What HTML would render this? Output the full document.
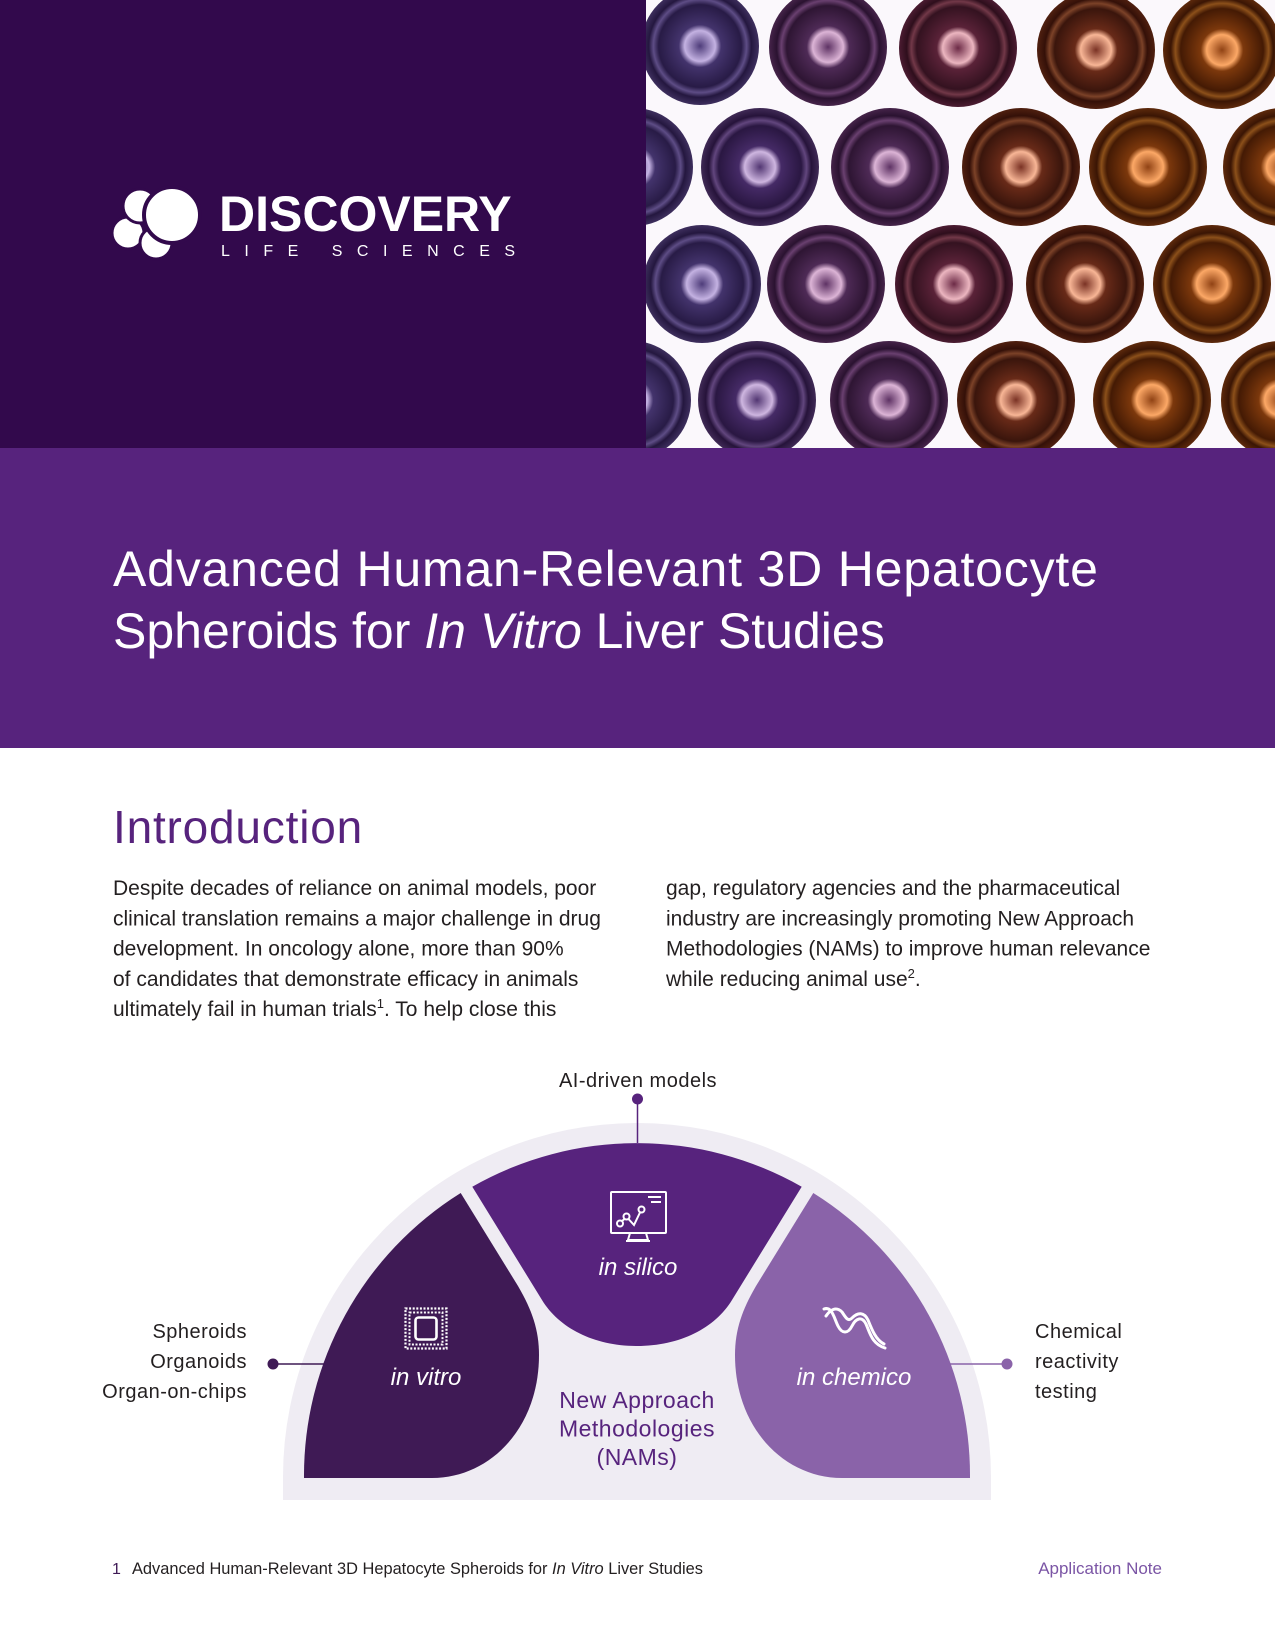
<!DOCTYPE html>
<html>
<head>
<meta charset="utf-8">
<style>
  html,body{margin:0;padding:0;background:#fff;}
  body{width:1275px;height:1650px;overflow:hidden;}
  svg{display:block;}
  text{font-family:"Liberation Sans", Arial, sans-serif;}
</style>
</head>
<body>
<svg width="1275" height="1650" viewBox="0 0 1275 1650" xmlns="http://www.w3.org/2000/svg">
  <defs>
    <radialGradient id="g1" cx="50%" cy="50%" r="50%">
      <stop offset="0%" stop-color="#4e3c7a"/>
      <stop offset="26%" stop-color="#c4b2e2"/>
      <stop offset="36%" stop-color="#43336c"/>
      <stop offset="70%" stop-color="#281b46"/>
      <stop offset="79%" stop-color="#5e4d86"/>
      <stop offset="87%" stop-color="#24173f"/>
      <stop offset="100%" stop-color="#3e2f5e"/>
    </radialGradient>
    <radialGradient id="g2" cx="50%" cy="50%" r="50%">
      <stop offset="0%" stop-color="#523672"/>
      <stop offset="26%" stop-color="#ceb6e0"/>
      <stop offset="36%" stop-color="#452a66"/>
      <stop offset="70%" stop-color="#2a1742"/>
      <stop offset="79%" stop-color="#62467e"/>
      <stop offset="87%" stop-color="#26133a"/>
      <stop offset="100%" stop-color="#402a56"/>
    </radialGradient>
    <radialGradient id="g3" cx="50%" cy="50%" r="50%">
      <stop offset="0%" stop-color="#5e3264"/>
      <stop offset="26%" stop-color="#dcb4d6"/>
      <stop offset="36%" stop-color="#4e2a56"/>
      <stop offset="70%" stop-color="#2e1533"/>
      <stop offset="79%" stop-color="#6a4070"/>
      <stop offset="87%" stop-color="#2a1230"/>
      <stop offset="100%" stop-color="#46244a"/>
    </radialGradient>
    <radialGradient id="g4" cx="50%" cy="50%" r="50%">
      <stop offset="0%" stop-color="#6c2a46"/>
      <stop offset="26%" stop-color="#ecb6c0"/>
      <stop offset="36%" stop-color="#5a2238"/>
      <stop offset="70%" stop-color="#341220"/>
      <stop offset="79%" stop-color="#723848"/>
      <stop offset="87%" stop-color="#2e0e1c"/>
      <stop offset="100%" stop-color="#4c1c32"/>
    </radialGradient>
    <radialGradient id="g5" cx="50%" cy="50%" r="50%">
      <stop offset="0%" stop-color="#7a3224"/>
      <stop offset="26%" stop-color="#f8b696"/>
      <stop offset="36%" stop-color="#682a18"/>
      <stop offset="70%" stop-color="#3a150c"/>
      <stop offset="79%" stop-color="#7c4228"/>
      <stop offset="87%" stop-color="#341008"/>
      <stop offset="100%" stop-color="#502010"/>
    </radialGradient>
    <radialGradient id="g6" cx="50%" cy="50%" r="50%">
      <stop offset="0%" stop-color="#904214"/>
      <stop offset="26%" stop-color="#fca866"/>
      <stop offset="36%" stop-color="#7c380c"/>
      <stop offset="70%" stop-color="#441a04"/>
      <stop offset="79%" stop-color="#8c501a"/>
      <stop offset="87%" stop-color="#3a1504"/>
      <stop offset="100%" stop-color="#5e2a0c"/>
    </radialGradient>
    <clipPath id="photoClip">
      <rect x="646" y="0" width="629" height="448"/>
    </clipPath>
  </defs>

  <!-- Header dark block -->
  <rect x="0" y="0" width="646" height="448" fill="#32094c"/>

  <!-- Photo -->
  <g clip-path="url(#photoClip)">
    <rect x="646" y="0" width="629" height="448" fill="#fbf8fc"/>
    <!-- Row A -->
    <circle cx="700" cy="46" r="59" fill="url(#g1)"/>
    <circle cx="828" cy="47" r="59" fill="url(#g3)"/>
    <circle cx="958" cy="48" r="59" fill="url(#g4)"/>
    <circle cx="1096" cy="50" r="59" fill="url(#g5)"/>
    <circle cx="1222" cy="50" r="59" fill="url(#g6)"/>
    <!-- Row B -->
    <circle cx="634" cy="167" r="59" fill="url(#g1)"/>
    <circle cx="760" cy="167" r="59" fill="url(#g2)"/>
    <circle cx="890" cy="167" r="59" fill="url(#g3)"/>
    <circle cx="1021" cy="167" r="59" fill="url(#g5)"/>
    <circle cx="1148" cy="167" r="59" fill="url(#g6)"/>
    <circle cx="1282" cy="167" r="59" fill="url(#g6)"/>
    <!-- Row C -->
    <circle cx="702" cy="284" r="59" fill="url(#g1)"/>
    <circle cx="826" cy="284" r="59" fill="url(#g3)"/>
    <circle cx="954" cy="284" r="59" fill="url(#g4)"/>
    <circle cx="1085" cy="284" r="59" fill="url(#g5)"/>
    <circle cx="1212" cy="284" r="59" fill="url(#g6)"/>
    <!-- Row D -->
    <circle cx="632" cy="400" r="59" fill="url(#g1)"/>
    <circle cx="757" cy="400" r="59" fill="url(#g2)"/>
    <circle cx="889" cy="400" r="59" fill="url(#g3)"/>
    <circle cx="1016" cy="400" r="59" fill="url(#g5)"/>
    <circle cx="1152" cy="400" r="59" fill="url(#g6)"/>
    <circle cx="1280" cy="400" r="59" fill="url(#g6)"/>
  </g>

  <!-- Logo icon -->
  <g>
    <circle cx="128" cy="233" r="16" fill="#fff" stroke="#32094c" stroke-width="3"/>
    <circle cx="140" cy="206" r="17" fill="#fff" stroke="#32094c" stroke-width="3"/>
    <circle cx="156" cy="243" r="16" fill="#fff" stroke="#32094c" stroke-width="3"/>
    <circle cx="172" cy="215" r="28" fill="#fff" stroke="#32094c" stroke-width="4"/>
  </g>
  <text x="219" y="231" font-size="50" font-weight="bold" fill="#fff">DISCOVERY</text>
  <text x="221" y="256" font-size="16" letter-spacing="14.5" fill="#fff">LIFE SCIENCES</text>

  <!-- Title band -->
  <rect x="0" y="448" width="1275" height="300" fill="#57237d"/>
  <text x="113" y="586" font-size="50" letter-spacing="0.8" fill="#fff">Advanced Human-Relevant 3D Hepatocyte</text>
  <text x="113" y="648" font-size="50" letter-spacing="0" fill="#fff">Spheroids for <tspan font-style="italic">In Vitro</tspan> Liver Studies</text>

  <!-- Introduction -->
  <text x="113" y="843" font-size="46" letter-spacing="0.8" fill="#57237d">Introduction</text>

  <g font-size="21" fill="#231f20">
    <text x="113" y="895">Despite decades of reliance on animal models, poor</text>
    <text x="113" y="925.25">clinical translation remains a major challenge in drug</text>
    <text x="113" y="955.5">development. In oncology alone, more than 90%</text>
    <text x="113" y="985.75">of candidates that demonstrate efficacy in animals</text>
    <text x="113" y="1016">ultimately fail in human trials<tspan font-size="13" dy="-8">1</tspan><tspan dy="8">. To help close this</tspan></text>

    <text x="666" y="895">gap, regulatory agencies and the pharmaceutical</text>
    <text x="666" y="925.25">industry are increasingly promoting New Approach</text>
    <text x="666" y="955.5">Methodologies (NAMs) to improve human relevance</text>
    <text x="666" y="985.75">while reducing animal use<tspan font-size="13" dy="-8">2</tspan><tspan dy="8">.</tspan></text>
  </g>

  <!-- Diagram -->
  <path d="M 283 1500 L 283 1477 A 354 354 0 0 1 991 1477 L 991 1500 Z" fill="#efecf3"/>

  <!-- in silico -->
  <path d="M 472.3 1186.7 A 333 333 0 0 1 801.7 1186.7 L 732 1300 C 715 1328, 680 1346, 637 1346 C 594 1346, 559 1328, 542 1300 Z" fill="#57237d"/>
  <!-- in vitro -->
  <path d="M 460.7 1193 L 518 1286 C 532 1310, 539 1330, 539 1355 C 539 1428, 490 1478, 432 1478 L 304 1478 A 333 333 0 0 1 460.7 1193 Z" fill="#3f1a55"/>
  <!-- in chemico -->
  <path d="M 813.3 1193 L 756 1286 C 742 1310, 735 1330, 735 1355 C 735 1428, 784 1478, 842 1478 L 970 1478 A 333 333 0 0 0 813.3 1193 Z" fill="#8a63a9"/>

  <!-- connectors -->
  <line x1="637.5" y1="1099" x2="637.5" y2="1143" stroke="#57237d" stroke-width="1.5"/>
  <circle cx="637.5" cy="1099" r="5.5" fill="#57237d"/>
  <line x1="273" y1="1364" x2="325" y2="1364" stroke="#3f1a55" stroke-width="1.5"/>
  <circle cx="273" cy="1364" r="5.5" fill="#3f1a55"/>
  <line x1="949" y1="1364" x2="1007" y2="1364" stroke="#8a63a9" stroke-width="1.5"/>
  <circle cx="1007" cy="1364" r="5.5" fill="#8a63a9"/>

  <!-- outer labels -->
  <text x="638" y="1087" font-size="20" letter-spacing="0.5" text-anchor="middle" fill="#231f20">AI-driven models</text>
  <g font-size="20" letter-spacing="0.5" text-anchor="end" fill="#231f20">
    <text x="247" y="1338">Spheroids</text>
    <text x="247" y="1368">Organoids</text>
    <text x="247" y="1398">Organ-on-chips</text>
  </g>
  <g font-size="20" letter-spacing="0.5" fill="#231f20">
    <text x="1035" y="1338">Chemical</text>
    <text x="1035" y="1368">reactivity</text>
    <text x="1035" y="1398">testing</text>
  </g>

  <!-- monitor icon (in silico) -->
  <g fill="none" stroke="#fff" stroke-width="2">
    <rect x="611" y="1192" width="55" height="41" rx="1"/>
    <line x1="648" y1="1197" x2="661" y2="1197"/>
    <line x1="651" y1="1202" x2="661" y2="1202"/>
    <path d="M 630 1233 L 628 1240 L 648 1240 L 646 1233"/>
    <line x1="626" y1="1241" x2="650" y2="1241"/>
    <circle cx="620" cy="1223.5" r="3"/>
    <circle cx="626.5" cy="1216.5" r="3"/>
    <circle cx="641.5" cy="1209.5" r="3"/>
    <path d="M 622 1221 L 624.5 1219 M 628.5 1219 L 634 1225 L 640 1212.5"/>
  </g>
  <text x="638" y="1275" font-size="24" font-style="italic" text-anchor="middle" fill="#fff">in silico</text>

  <!-- chip icon (in vitro) -->
  <g fill="none" stroke="#fff">
    <rect x="405.5" y="1308.5" width="41" height="40" stroke-width="2.2" stroke-dasharray="2 1.6"/>
    <rect x="409.5" y="1312.5" width="33" height="32" stroke-width="2" stroke-dasharray="2 1.6"/>
    <rect x="415.5" y="1317.5" width="21" height="22" rx="3" stroke-width="2.6"/>
  </g>
  <text x="426" y="1385" font-size="24" font-style="italic" text-anchor="middle" fill="#fff">in vitro</text>

  <!-- DNA icon (in chemico) -->
  <g fill="none" stroke="#fff" stroke-width="3" stroke-linecap="round">
    <path d="M 824 1309 C 832 1306, 834 1318, 838 1326 C 842 1334, 848 1334, 852 1326 C 856 1318, 862 1316, 866 1324 C 870 1333, 872 1344, 885 1348"/>
    <path d="M 826 1316 C 830 1310, 836 1306, 842 1312 C 846 1318, 848 1322, 852 1318 C 858 1312, 864 1312, 868 1320 C 872 1330, 876 1340, 884 1344"/>
  </g>
  <text x="854" y="1385" font-size="24" font-style="italic" text-anchor="middle" fill="#fff">in chemico</text>

  <!-- center NAMs label -->
  <g font-size="23" letter-spacing="0.5" text-anchor="middle" fill="#57237d">
    <text x="637" y="1408">New Approach</text>
    <text x="637" y="1436.5">Methodologies</text>
    <text x="637" y="1465">(NAMs)</text>
  </g>

  <!-- Footer -->
  <text x="112" y="1574" font-size="16" fill="#3f1a55">1</text>
  <text x="132" y="1574" font-size="16.4" fill="#231f20">Advanced Human-Relevant 3D Hepatocyte Spheroids for <tspan font-style="italic">In Vitro</tspan> Liver Studies</text>
  <text x="1162" y="1574" font-size="17" text-anchor="end" fill="#7b55a5">Application Note</text>
</svg>
</body>
</html>
